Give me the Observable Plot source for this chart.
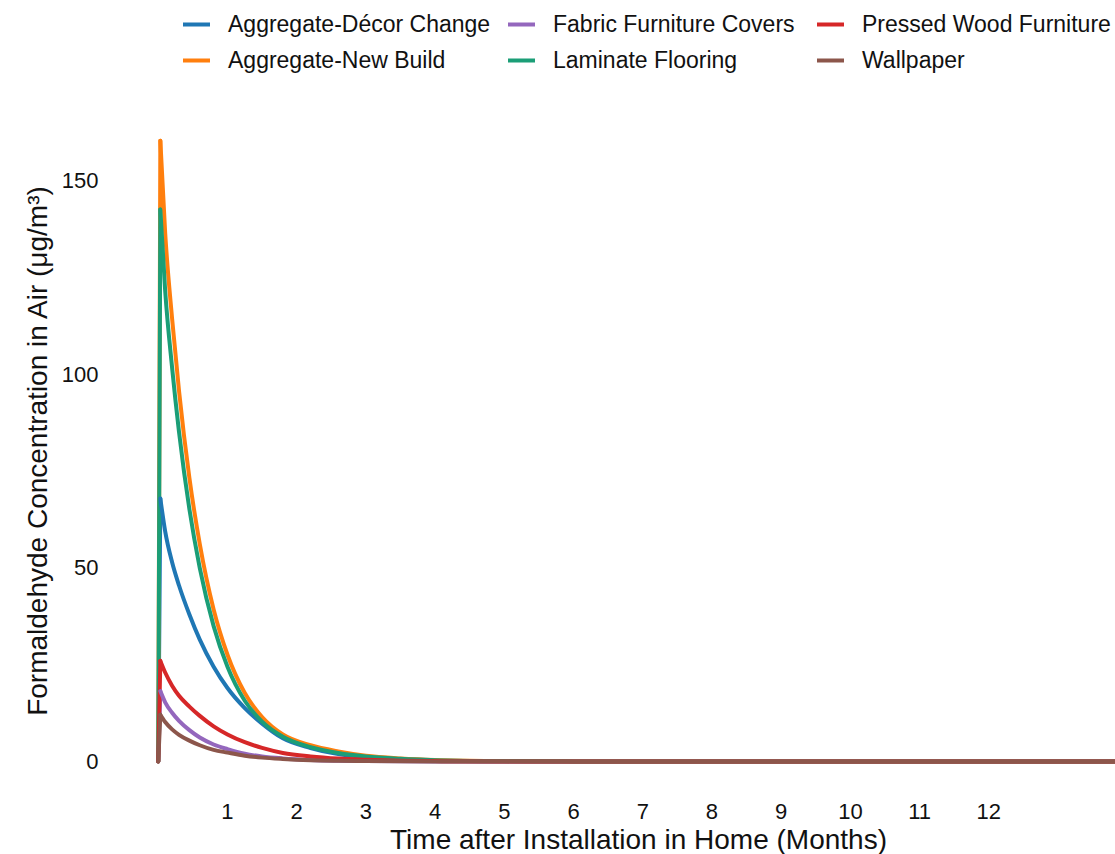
<!DOCTYPE html>
<html>
<head>
<meta charset="utf-8">
<script src="https://cdn.jsdelivr.net/npm/d3@7"></script>
<script src="https://cdn.jsdelivr.net/npm/@observablehq/plot@0.6"></script>
<style>
  body { margin: 0; background: #fff; font-family: "Liberation Sans", Arial, sans-serif; }
  #legend { position: relative; height: 88px; width: 1115px; }
  .item { position: absolute; display: flex; align-items: center; font-size: 23px; color: #111; white-space: nowrap; transform: translateY(-50%); }
  .sw { width: 27px; height: 4px; margin-right: 18px; }
  #chart svg { display: block; }
</style>
</head>
<body>
<div id="legend"></div>
<div id="chart"></div>
<script>
// Time after installation (months)
const months = [0, 0.03, 0.1, 0.2, 0.3, 0.45, 0.6, 0.8, 1.0, 1.25, 1.5, 1.8, 2.2, 2.6, 3, 3.5, 4, 5, 6, 8, 10, 13.83];
// Formaldehyde concentration (µg/m3) per series
const decorChange  = [0, 68, 59.5, 51.5, 45.5, 38, 31.5, 24.5, 19, 13.8, 9.8, 6.0, 3.5, 1.9, 1.1, 0.55, 0.27, 0.07, 0.02, 0, 0, 0];
const newBuild     = [0, 160.5, 136.6, 114.5, 95.8, 73.3, 56.2, 39.3, 27.6, 17.7, 11.5, 7.0, 4.2, 2.6, 1.5, 0.8, 0.4, 0.12, 0.03, 0, 0, 0];
const fabricCovers = [0, 18.2, 15.3, 12.6, 10.5, 8.1, 6.2, 4.4, 3.2, 2.0, 1.3, 0.8, 0.4, 0.2, 0.1, 0.05, 0.02, 0, 0, 0, 0, 0];
const laminate     = [0, 142.7, 121.7, 101.8, 85.2, 65.2, 50, 35, 24.5, 15.7, 10.3, 6.4, 3.7, 2.2, 1.3, 0.7, 0.35, 0.1, 0.03, 0, 0, 0];
const pressedWood  = [0, 26, 23, 19.6, 17, 14.2, 11.8, 9.1, 7, 5, 3.5, 2.2, 1.3, 0.75, 0.45, 0.22, 0.1, 0.03, 0, 0, 0, 0];
const wallpaper    = [0, 12.1, 10.2, 8.3, 6.9, 5.4, 4.2, 3.0, 2.3, 1.5, 1.0, 0.65, 0.35, 0.2, 0.1, 0.05, 0.02, 0, 0, 0, 0, 0];

const seriesNames = ["Aggregate-Décor Change", "Aggregate-New Build", "Fabric Furniture Covers", "Laminate Flooring", "Pressed Wood Furniture", "Wallpaper"];
const seriesValues = [decorChange, newBuild, fabricCovers, laminate, pressedWood, wallpaper];
const seriesColors = ["#1f77b4", "#ff7f0e", "#9467bd", "#1b9e77", "#d62728", "#8c564b"];

const xTicks = [1, 2, 3, 4, 5, 6, 7, 8, 9, 10, 11, 12];
const yTicks = [0, 50, 100, 150];
const xTitle = "Time after Installation in Home (Months)";
const yTitle = "Formaldehyde Concentration in Air (μg/m³)";

// legend (3 columns x 2 rows, column-major)
const legendCols = [183, 508, 817];
const legendRows = [24, 60];
const legend = document.getElementById("legend");
seriesNames.forEach((name, i) => {
  const col = Math.floor(i / 2), row = i % 2;
  const d = document.createElement("div");
  d.className = "item";
  d.style.left = legendCols[col] + "px";
  d.style.top = legendRows[row] + "px";
  const sw = document.createElement("span");
  sw.className = "sw";
  sw.style.background = seriesColors[i];
  const t = document.createElement("span");
  t.textContent = name;
  d.appendChild(sw); d.appendChild(t);
  legend.appendChild(d);
});

const rows = [];
seriesNames.forEach((name, s) => {
  months.forEach((m, i) => rows.push({series: name, t: m, v: seriesValues[s][i], idx: i}));
});
const rise = rows.filter(d => d.idx <= 1);
const decay = rows.filter(d => d.idx >= 1);

const chart = Plot.plot({
  width: 1115,
  height: 766,
  marginLeft: 110,
  marginRight: 0,
  marginTop: 17,
  marginBottom: 64,
  style: { fontFamily: "'Liberation Sans', Arial, sans-serif", fontSize: "22px", color: "#111", background: "#fff" },
  x: { domain: [-0.69, 13.83], ticks: xTicks, tickSize: 0, tickPadding: 13, label: null },
  y: { domain: [-7.5, 169.6], ticks: yTicks, tickSize: 0, tickPadding: 12, label: null },
  color: { domain: seriesNames, range: seriesColors },
  marks: [
    Plot.line(rise, { x: "t", y: "v", z: "series", stroke: "series", strokeWidth: 4, curve: "linear" }),
    Plot.line(decay, { x: "t", y: "v", z: "series", stroke: "series", strokeWidth: 4, curve: "monotone-x" }),
    Plot.text([xTitle], { frameAnchor: "bottom", dx: 25.5, dy: 50, lineAnchor: "middle", textAnchor: "middle", fontSize: 28, fill: "#111" }),
    Plot.text([yTitle], { frameAnchor: "left", dx: -72, dy: 3, rotate: -90, lineAnchor: "middle", textAnchor: "middle", fontSize: 28, fill: "#111" })
  ]
});
document.getElementById("chart").appendChild(chart);
</script>
</body>
</html>
